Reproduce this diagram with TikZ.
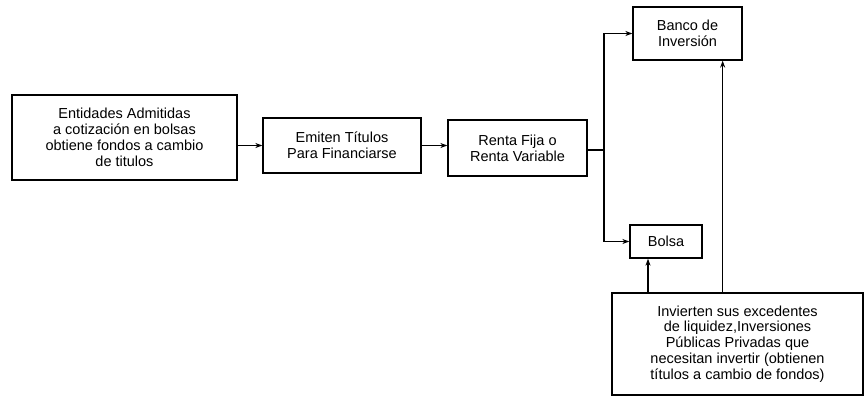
\documentclass[tikz,border=0pt]{standalone}
\usepackage{fontspec}
\setmainfont{Liberation Sans}
\usetikzlibrary{arrows.meta, positioning, calc}

\begin{document}
\begin{tikzpicture}[x=1pt, y=-1pt,
        box/.style={draw, line width=1.3pt, align=center, inner sep=0pt,
            font=\fontsize{14.5}{15.8}\selectfont},
        arrow/.style={-{Stealth[length=7pt, width=5pt]}, line width=1.3pt}
    ]
        \useasboundingbox (0,0) rectangle (864,402);

        % --- main row ---
        \node[box, minimum width=225, minimum height=85] (ent) at (124.5, 137.5)
            {Entidades Admitidas\\a cotización en bolsas\\obtiene fondos a cambio\\de titulos};
        \node[box, minimum width=158, minimum height=55] (emi) at (342, 145.5)
            {Emiten Títulos\\Para Financiarse};
        \node[box, minimum width=139, minimum height=56] (renta) at (517.5, 148)
            {Renta Fija o\\Renta Variable};

        % --- destinations ---
        \node[box, minimum width=109, minimum height=53] (banco) at (687.5, 33.5)
            {Banco de\\Inversión};
        \node[box, minimum width=72, minimum height=33] (bolsa) at (666, 241.5) {Bolsa};

        % --- investors (box runs to the right edge) ---
        \node[box, minimum width=251, minimum height=102] (inv) at (737.5, 344)
            {Invierten sus excedentes\\de liquidez,Inversiones\\Públicas Privadas que\\necesitan invertir (obtienen\\títulos a cambio de fondos)};

        % --- connectors ---
        \coordinate (split) at (604, 150);
        \draw[arrow] (ent.east |- emi.west) -- (emi.west);
        \draw[arrow] (emi.east) -- (renta.west |- emi.east);
        \draw[line width=1.3pt] (renta.east |- split) -- (split);
        \draw[arrow] (split) |- (banco.west);
        \draw[arrow] (split) |- (bolsa.west);

        % investors feed both markets
        \draw[arrow] ([xshift=-18]inv.north -| bolsa.south) -- ([xshift=-18]bolsa.south);
        \draw[arrow] ([xshift=-20]inv.north -| banco.south east) -- ([xshift=-20]banco.south east);

    \end{tikzpicture}
\end{document}
